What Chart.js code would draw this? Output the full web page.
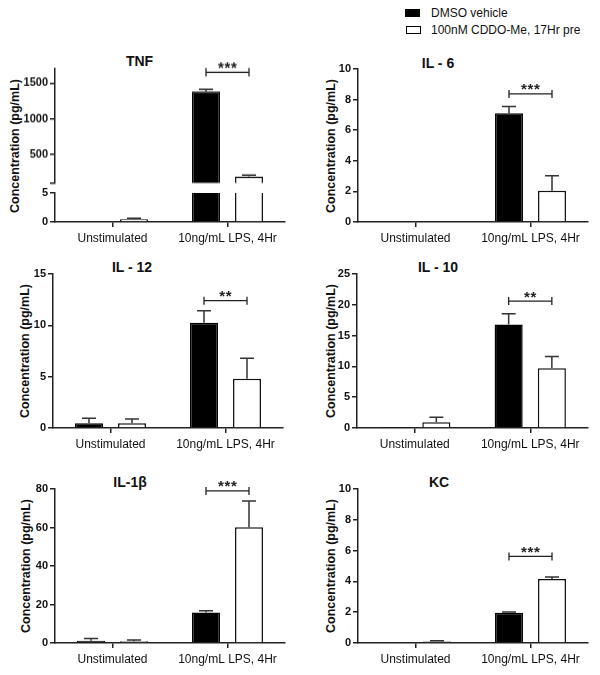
<!DOCTYPE html>
<html><head><meta charset="utf-8">
<script src="https://cdn.jsdelivr.net/npm/chart.js@4.4.0/dist/chart.umd.min.js"></script>
<style>
html,body{margin:0;padding:0;background:#fff;}
#wrap{position:relative;width:600px;height:675px;overflow:hidden;font-family:"Liberation Sans",Arial,sans-serif;color:#111;background:#fff;}
.title{position:absolute;font-weight:bold;font-size:14px;transform:translate(-50%,-50%);white-space:nowrap;line-height:16px;}
.ytitle{position:absolute;font-weight:bold;font-size:12.5px;transform:translate(-50%,-50%) rotate(-90deg);white-space:nowrap;line-height:14px;}
canvas{position:absolute;}
.leg{position:absolute;font-size:12px;white-space:nowrap;line-height:14px;}
.sw{position:absolute;width:15px;height:8px;border:1.2px solid #000;box-sizing:border-box;}
</style></head>
<body>
<div id="wrap"></div>
<script>
// ---------------- DATA ----------------
const categories = ['Unstimulated', '10ng/mL LPS, 4Hr'];
const seriesLabels = ['DMSO vehicle', '100nM CDDO-Me, 17Hr pre'];
const panelTitles = ['TNF', 'IL - 6', 'IL - 12', 'IL - 10', 'IL-1\u03b2', 'KC'];
const yAxisTitle = 'Concentration (pg/mL)';

// TNF (broken y axis: lower 0-5, upper 100-1700)
const tnfDMSO = [0.15, 1380];
const tnfDMSOErr = [0, 30];
const tnfCDDO = [0.47, 190];
const tnfCDDOErr = [0.17, 18];
const tnfUpperTicks = [100, 500, 1000, 1500];
const tnfUpperTickLabels = ['', '500', '1000', '1500'];
const tnfUpperMax = 1700;
const tnfLowerTicks = [0, 5];
const tnfSig = [1650, '***'];

// IL-6
const il6DMSO = [0, 7.1];
const il6DMSOErr = [0, 0.45];
const il6CDDO = [0, 2.05];
const il6CDDOErr = [0, 0.98];
const il6Ticks = [0, 2, 4, 6, 8, 10];
const il6Sig = [8.37, '***'];

// IL-12
const il12DMSO = [0.46, 10.25];
const il12DMSOErr = [0.48, 1.17];
const il12CDDO = [0.46, 4.8];
const il12CDDOErr = [0.42, 2.0];
const il12Ticks = [0, 5, 10, 15];
const il12Sig = [12.4, '**'];

// IL-10
const il10DMSO = [0.05, 16.8];
const il10DMSOErr = [0, 1.75];
const il10CDDO = [0.92, 9.7];
const il10CDDOErr = [0.81, 1.9];
const il10Ticks = [0, 5, 10, 15, 20, 25];
const il10Sig = [20.6, '**'];

// IL-1beta
const il1bDMSO = [1.2, 15.8];
const il1bDMSOErr = [1.1, 1.0];
const il1bCDDO = [0.9, 60.1];
const il1bCDDOErr = [0.7, 13.7];
const il1bTicks = [0, 20, 40, 60, 80];
const il1bSig = [79, '***'];

// KC
const kcDMSO = [0, 1.97];
const kcDMSOErr = [0, 0.05];
const kcCDDO = [0.09, 4.15];
const kcCDDOErr = [0.05, 0.13];
const kcTicks = [0, 2, 4, 6, 8, 10];
const kcSig = [5.62, '***'];

// ---------------- LAYOUT ----------------
Chart.defaults.font.family = '"Liberation Sans", Arial, sans-serif';
const wrap = document.getElementById('wrap');

function addDiv(cls, text, x, y) {
  const d = document.createElement('div');
  d.className = cls; d.textContent = text;
  d.style.left = x + 'px'; d.style.top = y + 'px';
  wrap.appendChild(d); return d;
}

// legend
(function(){
  const s1 = document.createElement('div'); s1.className = 'sw';
  s1.style.left = '405px'; s1.style.top = '9px'; s1.style.background = '#000'; wrap.appendChild(s1);
  const s2 = document.createElement('div'); s2.className = 'sw';
  s2.style.left = '406px'; s2.style.top = '26px'; s2.style.background = '#fff'; wrap.appendChild(s2);
  addDiv('leg', seriesLabels[0], 431, 6);
  addDiv('leg', seriesLabels[1], 431, 23);
})();

// titles
const titlePos = [[139.5, 61], [438, 63], [132, 267], [438, 267], [130, 482], [439, 482]];
panelTitles.forEach((t, i) => addDiv('title', t, titlePos[i][0], titlePos[i][1]));
const yTitlePos = [[15, 145.5], [331, 145.5], [25, 351], [331, 351], [26, 566], [331, 566]];
yTitlePos.forEach(p => addDiv('ytitle', yAxisTitle, p[0], p[1]));

function makePlugins(errs, sig) {
  return [{
    id: 'errBarsSig',
    afterDatasetsDraw(chart) {
      const ctx = chart.ctx, ys = chart.scales.y;
      ctx.save();
      ctx.strokeStyle = '#333'; ctx.lineWidth = 1.5;
      chart.data.datasets.forEach((ds, di) => {
        const meta = chart.getDatasetMeta(di);
        meta.data.forEach((bar, i) => {
          const v = ds.data[i], e = errs[di][i];
          if (!e) return;
          if (v < ys.min || v + e > ys.max) return;
          const top = ys.getPixelForValue(v + e);
          ctx.beginPath();
          ctx.moveTo(bar.x, bar.y); ctx.lineTo(bar.x, top);
          ctx.moveTo(bar.x - 7, top); ctx.lineTo(bar.x + 7, top);
          ctx.stroke();
        });
      });
      if (sig) {
        const x1 = chart.getDatasetMeta(0).data[1].x;
        const x2 = chart.getDatasetMeta(1).data[1].x;
        const yy = ys.getPixelForValue(sig[0]);
        ctx.strokeStyle = '#222'; ctx.lineWidth = 1.3;
        ctx.beginPath();
        ctx.moveTo(x1, yy); ctx.lineTo(x2, yy);
        ctx.moveTo(x1, yy - 4); ctx.lineTo(x1, yy + 4);
        ctx.moveTo(x2, yy - 4); ctx.lineTo(x2, yy + 4);
        ctx.stroke();
        ctx.fillStyle = '#222';
        ctx.font = 'bold 15px "Liberation Sans", Arial, sans-serif';
        ctx.textAlign = 'center'; ctx.textBaseline = 'alphabetic';
        const m = ctx.measureText('*');
        const off = (m.actualBoundingBoxAscent - m.actualBoundingBoxDescent) / 2;
        const n = sig[1].length, sp = 6.5, cx = (x1 + x2) / 2;
        for (let k = 0; k < n; k++) {
          ctx.fillText('*', cx + (k - (n - 1) / 2) * sp, yy - 6.5 + off);
        }
      }
      ctx.restore();
    }
  }];
}

function makeChart(g, d) {
  const c = document.createElement('canvas');
  let h = 10 + (g.plotBottom - g.plotTop) + (g.showX ? 30 : 0);
  c.width = 300; c.height = h;
  c.style.left = g.left + 'px'; c.style.top = (g.plotTop - 10) + 'px';
  c.style.width = '300px'; c.style.height = h + 'px';
  wrap.appendChild(c);
  const tickLabels = d.tickLabels || d.ticks.map(String);
  const chart = new Chart(c, {
    type: 'bar',
    data: {
      labels: categories,
      datasets: [
        {label: seriesLabels[0], data: d.dmso, backgroundColor: '#000', borderColor: '#000', borderWidth: 1.5, clip: 0},
        {label: seriesLabels[1], data: d.cddo, backgroundColor: '#fff', borderColor: '#111', borderWidth: 1.5, clip: 0}
      ]
    },
    options: {
      responsive: false, animation: false, devicePixelRatio: 1,
      layout: {padding: {top: 10, right: g.padRight, left: 0, bottom: 0}},
      plugins: {legend: {display: false}, tooltip: {enabled: false}},
      datasets: {bar: {categoryPercentage: 0.748, barPercentage: 0.65}},
      scales: {
        x: {
          display: g.showX,
          grid: {display: true, drawOnChartArea: false, offset: false, tickLength: 5, color: '#222', lineWidth: 1.5},
          border: {display: true, color: '#222', width: 1.5},
          ticks: {font: {size: 12}, color: '#111', padding: 4, maxRotation: 0},
          afterFit(s) { s.height = g.showX ? 30 : 0; }
        },
        y: {
          min: d.min, max: d.max,
          grid: {drawOnChartArea: false, tickLength: 5, color: '#222', lineWidth: 1.5},
          border: {display: true, color: '#222', width: 1.5},
          ticks: {font: {size: 11, weight: 'bold'}, color: '#111', padding: 2,
                  callback: (v, i) => tickLabels[i]},
          afterBuildTicks(s) { s.ticks = d.ticks.map(v => ({value: v})); },
          afterFit(s) { s.width = g.axisW; }
        }
      }
    },
    plugins: makePlugins([d.dmsoErr, d.cddoErr], d.sig)
  });
  // calibrate so the plot area lands exactly on the intended pixels
  const a = chart.chartArea;
  const dh = Math.round((g.plotBottom - g.plotTop) - (a.bottom - a.top));
  if (dh !== 0) {
    h += dh;
    chart.resize(300, h);
    c.style.width = '300px'; c.style.height = h + 'px';
  }
  c.style.top = (g.plotTop - chart.chartArea.top) + 'px';
  return chart;
}

// TNF upper (100-1700)
makeChart({left: 0, plotTop: 68, plotBottom: 183, axisW: 55, padRight: 15, showX: false},
  {dmso: tnfDMSO, cddo: tnfCDDO, dmsoErr: tnfDMSOErr, cddoErr: tnfCDDOErr,
   ticks: tnfUpperTicks, tickLabels: tnfUpperTickLabels, min: tnfUpperTicks[0], max: tnfUpperMax, sig: tnfSig});
// TNF lower (0-5)
makeChart({left: 0, plotTop: 193, plotBottom: 222, axisW: 55, padRight: 15, showX: true},
  {dmso: tnfDMSO, cddo: tnfCDDO, dmsoErr: tnfDMSOErr, cddoErr: tnfCDDOErr,
   ticks: tnfLowerTicks, min: tnfLowerTicks[0], max: tnfLowerTicks[tnfLowerTicks.length - 1], sig: null});
// IL-6
makeChart({left: 300, plotTop: 69, plotBottom: 222, axisW: 58, padRight: 12, showX: true},
  {dmso: il6DMSO, cddo: il6CDDO, dmsoErr: il6DMSOErr, cddoErr: il6CDDOErr,
   ticks: il6Ticks, min: il6Ticks[0], max: il6Ticks[il6Ticks.length - 1], sig: il6Sig});
// IL-12
makeChart({left: 0, plotTop: 274, plotBottom: 428, axisW: 53, padRight: 17, showX: true},
  {dmso: il12DMSO, cddo: il12CDDO, dmsoErr: il12DMSOErr, cddoErr: il12CDDOErr,
   ticks: il12Ticks, min: il12Ticks[0], max: il12Ticks[il12Ticks.length - 1], sig: il12Sig});
// IL-10
makeChart({left: 300, plotTop: 274, plotBottom: 428, axisW: 57, padRight: 12, showX: true},
  {dmso: il10DMSO, cddo: il10CDDO, dmsoErr: il10DMSOErr, cddoErr: il10CDDOErr,
   ticks: il10Ticks, min: il10Ticks[0], max: il10Ticks[il10Ticks.length - 1], sig: il10Sig});
// IL-1beta
makeChart({left: 0, plotTop: 489, plotBottom: 643, axisW: 55, padRight: 15, showX: true},
  {dmso: il1bDMSO, cddo: il1bCDDO, dmsoErr: il1bDMSOErr, cddoErr: il1bCDDOErr,
   ticks: il1bTicks, min: il1bTicks[0], max: il1bTicks[il1bTicks.length - 1], sig: il1bSig});
// KC
makeChart({left: 300, plotTop: 489, plotBottom: 643, axisW: 58, padRight: 12, showX: true},
  {dmso: kcDMSO, cddo: kcCDDO, dmsoErr: kcDMSOErr, cddoErr: kcCDDOErr,
   ticks: kcTicks, min: kcTicks[0], max: kcTicks[kcTicks.length - 1], sig: kcSig});
</script>
</body></html>
